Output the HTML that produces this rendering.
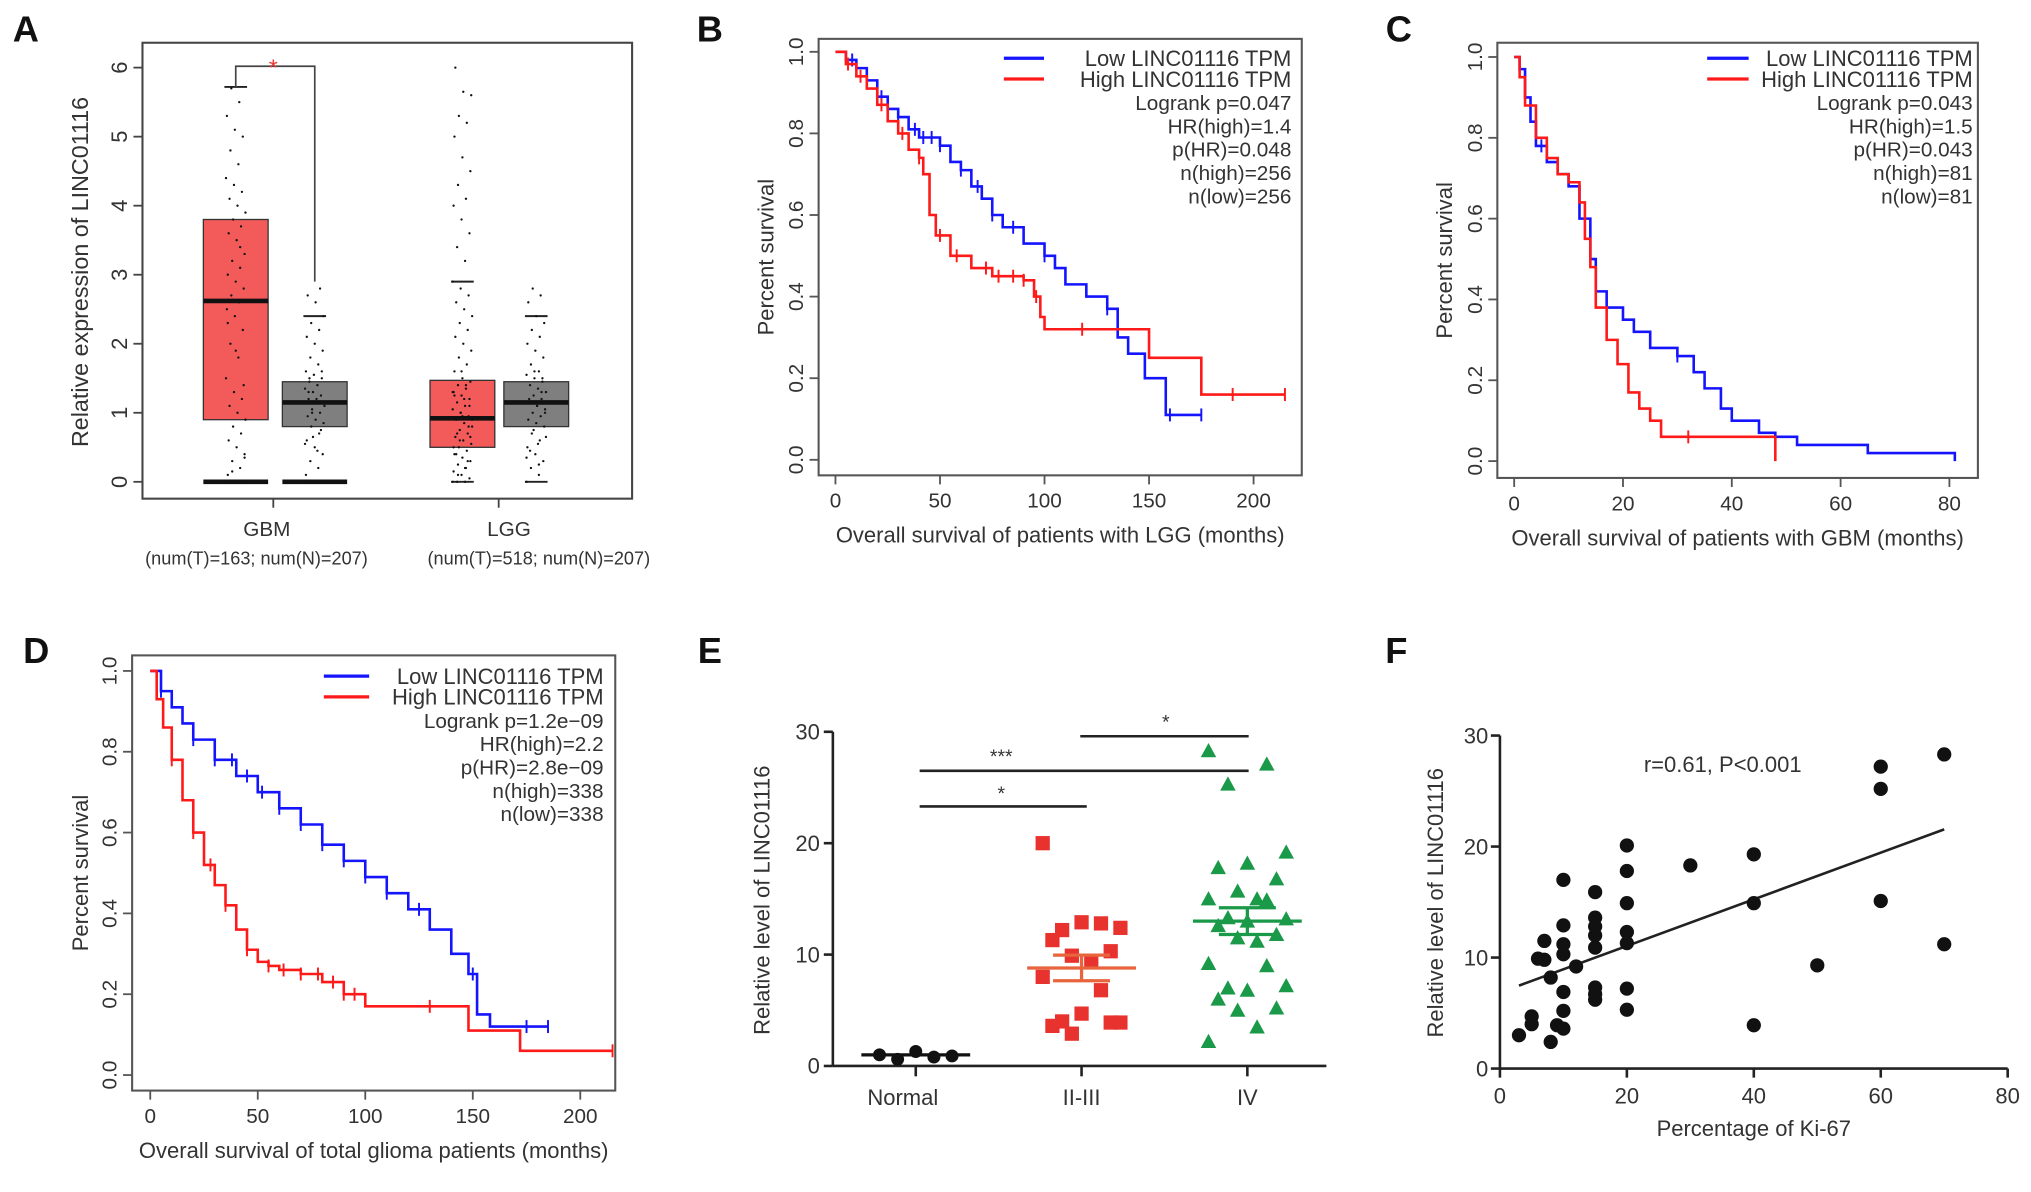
<!DOCTYPE html>
<html><head><meta charset="utf-8"><title>LINC01116 figure</title>
<style>
html,body{margin:0;padding:0;background:#fff;}
svg{display:block;font-family:"Liberation Sans",Arial,sans-serif;}
</style></head>
<body>
<svg id="fig" xmlns="http://www.w3.org/2000/svg" width="2031" height="1192" viewBox="0 0 1568 920.3" preserveAspectRatio="none"></svg>
<script>
// ---------- Panel A data ----------
const aGroups = ["GBM", "LGG"];
const aGroupNotes = ["(num(T)=163; num(N)=207)", "(num(T)=518; num(N)=207)"];
const aTumorQ = [[0, 0.9, 2.62, 3.8, 5.72], [0, 0.5, 0.92, 1.47, 2.9]];
const aNormalQ = [[0, 0.8, 1.15, 1.45, 2.4], [0, 0.8, 1.15, 1.45, 2.4]];
const aYTicks = [0, 1, 2, 3, 4, 5, 6];
const aGbmTumorPts = [0,0,0,0,0,0,0,0,0,0,0.1,0.2,0.3,0.4,0.5,0.6,0.7,0.8,0.9,1.0,1.1,1.2,1.3,1.5,1.8,2.0,2.2,2.4,2.5,2.6,2.7,2.8,2.9,3.0,3.1,3.2,3.3,3.5,3.6,3.7,3.8,3.9,4.0,4.1,4.2,4.3,4.4,4.6,4.8,5.0,5.1,5.3,5.5,5.7,1.4,1.9,2.3,3.4,0.15,0.35];
const aGbmNormalPts = [0,0,0,0,0,0.1,0.2,0.3,0.4,0.5,0.6,0.7,0.8,0.85,0.9,0.95,1.0,1.05,1.1,1.15,1.2,1.25,1.3,1.35,1.4,1.45,1.5,1.55,1.6,1.7,1.8,1.9,2.0,2.1,2.2,2.3,2.4,2.6,2.7,2.8,1.0,1.1,1.2,1.3,0.75,0.65,0.55,0.45,1.5,1.6];
const aLggTumorPts = [0,0,0,0.05,0.1,0.15,0.2,0.25,0.3,0.35,0.4,0.45,0.5,0.55,0.6,0.65,0.7,0.75,0.8,0.85,0.9,0.95,1.0,1.05,1.1,1.15,1.2,1.25,1.3,1.35,1.4,1.45,1.5,1.6,1.7,1.8,1.9,2.0,2.1,2.2,2.3,2.4,2.5,2.6,2.7,2.8,2.9,3.2,3.4,3.6,3.8,4.0,4.1,4.3,4.5,4.7,5.0,5.2,5.3,5.6,5.65,6.0,0.3,0.6,0.9,1.2,0.4,0.8,1.0,1.3,0.2,0.7,1.1,1.6,0.5,1.4,0.1,0.65,0.95,1.25];
const aLggNormalPts = [0,0.1,0.2,0.3,0.4,0.5,0.6,0.7,0.8,0.85,0.9,0.95,1.0,1.05,1.1,1.15,1.2,1.25,1.3,1.35,1.4,1.45,1.5,1.55,1.6,1.7,1.8,1.9,2.0,2.1,2.2,2.3,2.4,2.6,2.7,2.8,1.0,1.1,1.2,1.3,0.75,0.65,0.55,0.45,1.5,1.6,0.35,0.25];

// ---------- Panel B data ----------
const bLowT = [0,5,10,15,20,25,30,35,40,50,55,60,65,70,75,80,90,100,105,110,120,130,135,140,148,158,175];
const bLowS = [1,0.98,0.96,0.93,0.89,0.86,0.84,0.81,0.79,0.77,0.73,0.71,0.67,0.64,0.60,0.57,0.53,0.50,0.47,0.43,0.40,0.37,0.30,0.26,0.20,0.11,0.11];
const bHighT = [0,5,10,15,20,25,30,35,40,42,45,48,55,65,75,90,95,98,100,150,175,215];
const bHighS = [1,0.97,0.94,0.91,0.87,0.83,0.80,0.76,0.74,0.70,0.60,0.55,0.50,0.47,0.45,0.44,0.40,0.35,0.32,0.25,0.16,0.16];
const bLowCens = [8,22,30,38,42,46,50,60,68,75,85,100,130,160,175];
const bHighCens = [6,12,22,32,40,50,58,72,78,85,90,96,118,190,215];
const bStats = ["Logrank p=0.047","HR(high)=1.4","p(HR)=0.048","n(high)=256","n(low)=256"];
const bXTicks = [0,50,100,150,200];

// ---------- Panel C data ----------
const cLowT = [0,1,2,3,4,6,8,10,12,14,15,17,20,22,25,30,33,35,38,40,45,48,52,65,81];
const cLowS = [1,0.97,0.9,0.84,0.78,0.74,0.71,0.68,0.6,0.5,0.42,0.38,0.35,0.32,0.28,0.26,0.22,0.18,0.13,0.1,0.07,0.06,0.04,0.02,0.02];
const cHighT = [0,1,2,4,6,8,10,12,13,14,15,17,19,21,23,25,27,48];
const cHighS = [1,0.95,0.88,0.8,0.75,0.71,0.69,0.64,0.55,0.48,0.38,0.3,0.24,0.17,0.13,0.1,0.06,0.06];
const cLowCens = [5,30];
const cHighCens = [32];
const cStats = ["Logrank p=0.043","HR(high)=1.5","p(HR)=0.043","n(high)=81","n(low)=81"];
const cXTicks = [0,20,40,60,80];

// ---------- Panel D data ----------
const dLowT = [0,5,10,15,20,30,40,50,60,70,80,90,100,110,120,130,140,148,152,158,185];
const dLowS = [1,0.95,0.91,0.87,0.83,0.78,0.74,0.70,0.66,0.62,0.57,0.53,0.49,0.45,0.41,0.36,0.30,0.25,0.15,0.12,0.12];
const dHighT = [0,3,6,10,15,20,25,30,35,40,45,50,55,60,70,80,90,100,148,172,215];
const dHighS = [1,0.93,0.86,0.78,0.68,0.60,0.52,0.47,0.42,0.36,0.31,0.28,0.27,0.26,0.25,0.23,0.20,0.17,0.11,0.06,0.06];
const dLowCens = [5,20,30,38,45,52,60,70,80,90,100,110,125,150,175,185];
const dHighCens = [10,20,28,35,45,55,62,70,78,85,90,95,130,215];
const dStats = ["Logrank p=1.2e\u221209","HR(high)=2.2","p(HR)=2.8e\u221209","n(high)=338","n(low)=338"];
const dXTicks = [0,50,100,150,200];

// ---------- Panel E data ----------
const eCategories = ["Normal","II-III","IV"];
const eNormal = [1.0,0.8,0.6,0.9,1.3];
const eII = [20.0,12.8,12.2,12.4,12.9,11.3,10.3,9.9,9.3,8.0,6.8,4.0,3.9,4.7,3.6,3.9,2.9];
const eIV = [28.3,27.1,25.3,19.2,18.2,17.8,16.8,15.7,15.0,15.0,14.9,13.3,13.2,13.0,12.6,11.8,11.5,11.2,9.2,9.0,7.0,7.2,6.8,6.0,5.2,5.0,3.5,2.2];
const eMeans = [1.0, 8.8, 13.0];
const eSems = [0, 1.15, 1.2];
const eYTicks = [0,10,20,30];

// ---------- Panel F data ----------
const fX = [3,5,5,6,7,7,8,8,9,10,10,10,10,10,10,10,12,15,15,15,15,15,15,15,15,20,20,20,20,20,20,20,30,40,40,40,50,60,60,60,70,70];
const fY = [3.0,4.0,4.7,9.9,9.8,11.5,2.4,8.2,3.9,3.6,5.2,6.9,10.3,11.2,12.9,17.0,9.2,6.2,6.7,7.3,10.9,12.0,12.8,13.6,15.9,5.3,7.2,11.3,12.3,14.9,17.8,20.1,18.3,19.3,14.9,3.9,9.3,27.2,25.2,15.1,28.3,11.2];
const fXTicks = [0,20,40,60,80];
const fYTicks = [0,10,20,30];

const NS = "http://www.w3.org/2000/svg";
const svg = document.getElementById("fig");
function mk(tag, attrs, name, parent, txt) {
  const el = document.createElementNS(NS, tag);
  for (const k in attrs) el.setAttribute(k, attrs[k]);
  
  
  if (txt !== undefined) el.textContent = txt;
  (parent || svg).appendChild(el);
  return el;
}
function grp(name) { return mk("g", {}, name, svg); }
function ln(g, x1, y1, x2, y2, stroke, sw, name) {
  return mk("line", {x1, y1, x2, y2, stroke, "stroke-width": sw}, name, g);
}
function tx(g, x, y, s, size, name, opts) {
  opts = opts || {};
  const a = {x, y, "font-size": size, fill: opts.fill || "#333", "text-anchor": opts.anchor || "middle"};
  if (opts.rot) a.transform = "rotate(-90 " + x + " " + y + ")";
  if (opts.weight) a["font-weight"] = opts.weight;
  return mk("text", a, name, g, s);
}

// panel letters
const letters = [["A",20,32],["B",548,32],["C",1080,32],["D",28,512],["E",548,512],["F",1078,512]];
letters.forEach(l => tx(svg, l[1], l[2], l[0], 28, "panel-label-" + l[0].toLowerCase(), {weight:"bold", fill:"#111"}));

// ================= Panel A =================
(function(){
  const g = grp("panel-a-boxplot");
  const L=110,R=488,T=33,B=385;
  const y = v => 372 - v*53.3;
  mk("rect",{x:L,y:T,width:R-L,height:B-T,fill:"none",stroke:"#444","stroke-width":1.6},"plot-frame",g);
  aYTicks.forEach(v=>{ ln(g,L-7,y(v),L,y(v),"#444",1.4,"y-tick"); tx(g,L-12,y(v),String(v),17,"y-tick-label",{rot:true}); });
  tx(g,68,210,"Relative expression of LINC01116",18,"y-axis-title",{rot:true});
  const centers=[[182,243],[357,414]], hw=25, gx=[211,385], lx=[206,393], nx=[198,416];
  aGroups.forEach((gname,i)=>{
    ln(g,gx[i],B,gx[i],B+7,"#444",1.4,"x-tick");
    tx(g,lx[i],414,gname,16,"x-tick-label");
    tx(g,nx[i],436,aGroupNotes[i],14,"x-group-note");
  });
  const sets=[[aTumorQ[0],aGbmTumorPts,centers[0][0],"#f35b5b"],[aNormalQ[0],aGbmNormalPts,centers[0][1],"#7f7f7f"],[aTumorQ[1],aLggTumorPts,centers[1][0],"#f35b5b"],[aNormalQ[1],aLggNormalPts,centers[1][1],"#7f7f7f"]];
  sets.forEach((s,k)=>{
    const q=s[0], c=s[2];
    mk("rect",{x:c-hw,y:y(q[3]),width:2*hw,height:y(q[1])-y(q[3]),fill:s[3],stroke:"#333","stroke-width":1},"box",g);
    ln(g,c-hw,y(q[2]),c+hw,y(q[2]),"#111",3.5,"median-line");
    ln(g,c-hw*0.35,y(q[4]),c+hw*0.35,y(q[4]),"#222",1.5,"whisker-cap");
    ln(g,c-hw*0.35,y(q[0]),c+hw*0.35,y(q[0]),"#222",1.5,"whisker-cap-low");
    if (k<2) ln(g,c-hw,y(0),c+hw,y(0),"#111",3.5,"zero-bar");
    s[1].forEach((v,i)=>{
      const off=(((i*37)%23)-11)/11*hw*0.3;
      mk("circle",{cx:c+off,cy:y(v),r:0.9,fill:"#111"},"jitter-point",g);
    });
  });
  mk("path",{d:"M"+centers[0][0]+" "+y(5.72)+" V"+y(6.02)+" H"+centers[0][1]+" V"+y(2.9),fill:"none",stroke:"#444","stroke-width":1.3},"significance-bracket",g);
  tx(g,211,y(6.02)+7,"*",18,"significance-star",{fill:"#e33"});
})();

// ================= KM helper =================
function km(cfg){
  const g = grp(cfg.name);
  const {L,R,T,B,x0,px,y1,y0} = cfg;
  const X = t => x0 + t*px, Y = s => y0 - s*(y0-y1);
  mk("rect",{x:L,y:T,width:R-L,height:B-T,fill:"none",stroke:"#555","stroke-width":1.6},"plot-frame",g);
  [0,0.2,0.4,0.6,0.8,1.0].forEach(v=>{ ln(g,L-7,Y(v),L,Y(v),"#555",1.4,"y-tick"); tx(g,L-12,Y(v),v.toFixed(1),16,"y-tick-label",{rot:true}); });
  cfg.xticks.forEach(v=>{ ln(g,X(v),B,X(v),B+7,"#555",1.4,"x-tick"); tx(g,X(v),B+25,String(v),16,"x-tick-label"); });
  tx(g,(L+R)/2,B+52,cfg.xtitle,17,"x-axis-title");
  tx(g,cfg.ytx,(T+B)/2,"Percent survival",17,"y-axis-title",{rot:true});
  function curve(T_,S_,cens,color,nm,drop){
    let d="M"+X(T_[0])+" "+Y(S_[0]);
    for(let i=1;i<T_.length;i++){ d+=" H"+X(T_[i])+" V"+Y(S_[i]); }
    if(drop) d+=" V"+Y(0);
    mk("path",{d,fill:"none",stroke:color,"stroke-width":2},nm,g);
    cens.forEach(t=>{
      let s=S_[0]; for(let i=0;i<T_.length;i++){ if(T_[i]<=t) s=S_[i]; }
      ln(g,X(t),Y(s)-5,X(t),Y(s)+5,color,1.5,"censor-mark");
    });
  }
  curve(cfg.lowT,cfg.lowS,cfg.lowC,"#1414ff","low-curve",cfg.lowDrop);
  curve(cfg.highT,cfg.highS,cfg.highC,"#ff1a1a","high-curve",cfg.highDrop);
  const lg=cfg.leg;
  ln(g,lg.lx1,lg.y,lg.lx2,lg.y,"#1414ff",2.5,"legend-line-low");
  ln(g,lg.lx1,lg.y+16,lg.lx2,lg.y+16,"#ff1a1a",2.5,"legend-line-high");
  tx(g,lg.tr,lg.y+6,"Low LINC01116 TPM",17,"legend-entry-low",{anchor:"end"});
  tx(g,lg.tr,lg.y+22,"High LINC01116 TPM",17,"legend-entry-high",{anchor:"end"});
  cfg.stats.forEach((s,i)=>tx(g,lg.tr,lg.y+40+i*18,s,16,"legend-stat",{anchor:"end"}));
}
km({name:"panel-b-km-lgg",L:632,R:1005,T:30,B:367,x0:645,px:1.614,y1:40,y0:355,xticks:bXTicks,
  xtitle:"Overall survival of patients with LGG (months)",ytx:597,
  lowT:bLowT,lowS:bLowS,lowC:bLowCens,highT:bHighT,highS:bHighS,highC:bHighCens,
  leg:{lx1:775,lx2:806,y:45,tr:997},stats:bStats});
km({name:"panel-c-km-gbm",L:1156,R:1527,T:33,B:369,x0:1169,px:4.2,y1:44,y0:356,xticks:cXTicks,
  xtitle:"Overall survival of patients with GBM (months)",ytx:1121,
  lowT:cLowT,lowS:cLowS,lowC:cLowCens,highT:cHighT,highS:cHighS,highC:cHighCens,lowDrop:true,highDrop:true,
  leg:{lx1:1318,lx2:1350,y:45,tr:1523},stats:cStats});
km({name:"panel-d-km-total",L:102,R:475,T:506,B:842,x0:116,px:1.66,y1:518,y0:830,xticks:dXTicks,
  xtitle:"Overall survival of total glioma patients (months)",ytx:68,
  lowT:dLowT,lowS:dLowS,lowC:dLowCens,highT:dHighT,highS:dHighS,highC:dHighCens,
  leg:{lx1:250,lx2:285,y:522,tr:466},stats:dStats});

// ================= Panel E =================
(function(){
  const g = grp("panel-e-dotplot");
  const x0=643, Y=v=>823-v*8.6, cx=[707,835,963];
  ln(g,x0,Y(30),x0,Y(0),"#222",2,"y-axis-line");
  ln(g,x0,Y(0),1024,Y(0),"#222",2,"x-axis-line");
  eYTicks.forEach(v=>{ ln(g,x0-7,Y(v),x0,Y(v),"#222",2,"y-tick"); tx(g,x0-10,Y(v)+6,String(v),17,"y-tick-label",{anchor:"end"}); });
  eCategories.forEach((c,i)=>{ ln(g,cx[i],Y(0),cx[i],Y(0)+8,"#222",2,"x-tick"); tx(g,cx[i]-(i===0?10:0),Y(0)+30,c,17,"x-tick-label"); });
  tx(g,594,695,"Relative level of LINC01116",17,"y-axis-title",{rot:true});
  const offs=[-2,1,-1,2,0,-1.5,1.5,-0.5,0.5];
  eNormal.forEach((v,i)=>mk("circle",{cx:cx[0]+offs[i%9]*14,cy:Y(v),r:5,fill:"#111"},"point-normal",g));
  eII.forEach((v,i)=>mk("rect",{x:cx[1]+offs[i%9]*15-5.5,y:Y(v)-5.5,width:11,height:11,fill:"#e8322e"},"point-ii-iii",g));
  eIV.forEach((v,i)=>{ const x=cx[2]+offs[i%9]*15, y=Y(v);
    mk("polygon",{points:(x)+","+(y-6)+" "+(x-6)+","+(y+5)+" "+(x+6)+","+(y+5),fill:"#1a9a48"},"point-iv",g); });
  const cols=["#111","#e8643c","#1a9a48"];
  eMeans.forEach((m,i)=>{
    ln(g,cx[i]-42,Y(m),cx[i]+42,Y(m),cols[i],2.5,"mean-line");
    if(eSems[i]>0){
      ln(g,cx[i],Y(m-eSems[i]),cx[i],Y(m+eSems[i]),cols[i],2.5,"sem-bar");
      ln(g,cx[i]-22,Y(m+eSems[i]),cx[i]+22,Y(m+eSems[i]),cols[i],2.5,"sem-cap-top");
      ln(g,cx[i]-22,Y(m-eSems[i]),cx[i]+22,Y(m-eSems[i]),cols[i],2.5,"sem-cap-bottom");
    }
  });
  ln(g,710,Y(23.3),839,Y(23.3),"#222",2,"sig-line-normal-ii");
  tx(g,773,Y(23.3)-5,"*",15,"sig-star");
  ln(g,710,Y(26.5),964,Y(26.5),"#222",2,"sig-line-normal-iv");
  tx(g,773,Y(26.5)-6,"***",15,"sig-star");
  ln(g,834,Y(29.6),964,Y(29.6),"#222",2,"sig-line-ii-iv");
  tx(g,900,Y(29.6)-6,"*",15,"sig-star");
})();

// ================= Panel F =================
(function(){
  const g = grp("panel-f-scatter");
  const X=v=>1158+v*4.9, Y=v=>825-v*8.57;
  ln(g,X(0),Y(30),X(0),Y(0),"#222",2,"y-axis-line");
  ln(g,X(0),Y(0),X(80),Y(0),"#222",2,"x-axis-line");
  fYTicks.forEach(v=>{ ln(g,X(0)-7,Y(v),X(0),Y(v),"#222",2,"y-tick"); tx(g,X(0)-9,Y(v)+6,String(v),17,"y-tick-label",{anchor:"end"}); });
  fXTicks.forEach(v=>{ ln(g,X(v),Y(0),X(v),Y(0)+7,"#222",2,"x-tick"); tx(g,X(v),Y(0)+27,String(v),17,"x-tick-label"); });
  tx(g,1354,877,"Percentage of Ki-67",17,"x-axis-title");
  tx(g,1114,697,"Relative level of LINC01116",17,"y-axis-title",{rot:true});
  tx(g,1330,596,"r=0.61, P<0.001",17,"correlation-annotation");
  const n=fX.length; let sx=0,sy=0,sxx=0,sxy=0;
  for(let i=0;i<n;i++){sx+=fX[i];sy+=fY[i];sxx+=fX[i]*fX[i];sxy+=fX[i]*fY[i];}
  const b=(n*sxy-sx*sy)/(n*sxx-sx*sx), a=(sy-b*sx)/n;
  const xmin=Math.min(...fX), xmax=Math.max(...fX);
  ln(g,X(xmin),Y(a+b*xmin),X(xmax),Y(a+b*xmax),"#222",2,"regression-line");
  fX.forEach((v,i)=>mk("circle",{cx:X(v),cy:Y(fY[i]),r:5.5,fill:"#111"},"scatter-point",g));
})();
</script>
</body></html>
